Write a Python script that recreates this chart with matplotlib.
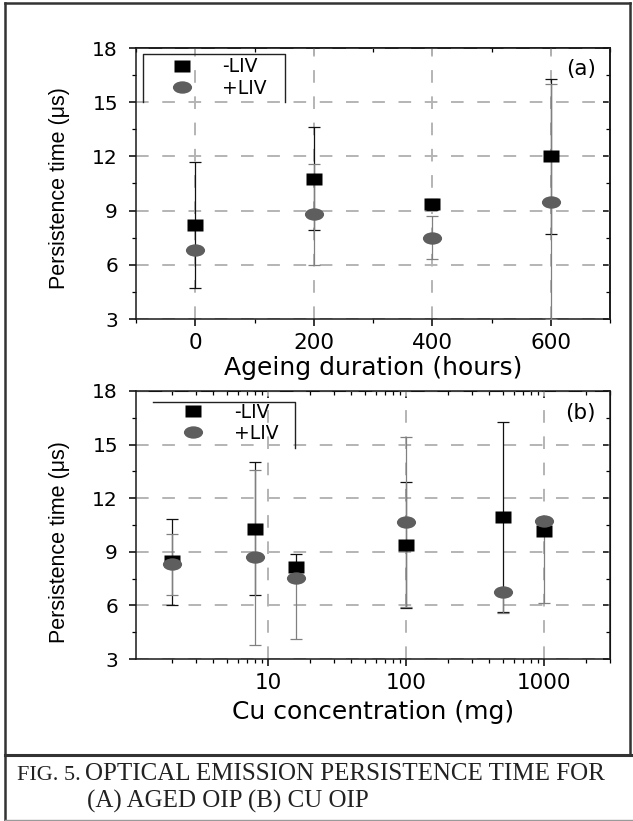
import matplotlib
matplotlib.use('Agg')
import matplotlib.pyplot as plt
from matplotlib.path import Path
from matplotlib.transforms import Affine2D
from matplotlib.lines import Line2D
from matplotlib.ticker import MultipleLocator, LogLocator, NullFormatter
from matplotlib import font_manager as fm

# ---------------- data ----------------
hours = [0, 200, 400, 600]
a_minus = [8.2, 10.75, 9.35, 12.0]
a_minus_err_lo = [3.5, 2.85, 0.3, 4.3]
a_minus_err_hi = [3.5, 2.85, 0.3, 4.3]
a_plus = [6.8, 8.8, 7.5, 9.5]
a_plus_err_lo = [0.0, 2.8, 1.2, 6.5]
a_plus_err_hi = [0.0, 2.8, 1.2, 6.5]

cu = [2, 8, 16, 100, 500, 1000]
b_minus = [8.5, 10.3, 8.15, 9.38, 10.95, 10.17]
b_minus_err_lo = [2.5, 3.7, 0.7, 3.5, 5.3, 0.0]
b_minus_err_hi = [2.35, 3.7, 0.7, 3.5, 5.3, 0.0]
b_plus = [8.3, 8.7, 7.55, 10.68, 6.77, 10.73]
b_plus_err_lo = [1.7, 4.9, 3.45, 4.75, 1.2, 4.6]
b_plus_err_hi = [1.7, 4.9, 0.0, 4.75, 0.0, 0.0]

y_ticks = [3, 6, 9, 12, 15, 18]
a_xticks = [0, 200, 400, 600]
b_xticks = [10, 100, 1000]
b_xticklabels = ['10', '100', '1000']
series_labels = ['-LIV', '+LIV']
ylabel = 'Persistence time (\u03bcs)'
xlabel_a = 'Ageing duration (hours)'
xlabel_b = 'Cu concentration (mg)'
caption_1a = 'FIG. 5.'
caption_1b = 'OPTICAL EMISSION PERSISTENCE TIME FOR'
caption_2 = '(A) AGED OIP (B) CU OIP'

# ---------------- style ----------------
plt.rcParams['font.family'] = ['DejaVu Sans']
names = {f.name for f in fm.fontManager.ttflist}
if 'Liberation Sans Narrow' in names:
    ylab_kw = dict(family='Liberation Sans Narrow', fontsize=18.5)
else:
    ylab_kw = dict(family='Liberation Sans', fontsize=15.5)
serif = 'Liberation Serif' if 'Liberation Serif' in names else 'DejaVu Serif'

W, H = 633, 821
fig = plt.figure(figsize=(W / 100, H / 100), dpi=100)

def fy(py):
    return 1 - py / H

sq_path = Path([(-0.675, -0.5), (0.675, -0.5), (0.675, 0.5), (-0.675, 0.5), (-0.675, -0.5)], closed=True)
ell_path = Affine2D().scale(1.55, 1.0).transform_path(Path.unit_circle())

SQ_COLOR = 'black'
CI_COLOR = '#5e5e5e'
GRID_KW = dict(color='#b4b4b4', linewidth=1.4, linestyle=(0, (6.5, 7)))

axa = fig.add_axes([136 / W, 1 - 319 / H, 474 / W, 271 / H])
axb = fig.add_axes([136 / W, 1 - 659 / H, 474 / W, 268 / H])


def draw_panel(ax, x, ym, yme_lo, yme_hi, yp, ype_lo, ype_hi):
    ax.errorbar(x, ym, yerr=[yme_lo, yme_hi], fmt='none', ecolor='#111111', elinewidth=0.9,
                capsize=4, capthick=0.9, zorder=3)
    ax.errorbar(x, yp, yerr=[ype_lo, ype_hi], fmt='none', ecolor='#808080', elinewidth=0.9,
                capsize=4, capthick=0.9, zorder=3)
    ax.plot(x, ym, ls='none', marker=sq_path, ms=11.5, color=SQ_COLOR, mec='none', zorder=4)
    ax.plot(x, yp, ls='none', marker=ell_path, ms=13.8, color=CI_COLOR, mec='none', zorder=5)
    ax.set_ylim(3, 18)
    ax.set_yticks(y_ticks)
    ax.set_yticklabels([str(v) for v in y_ticks])
    ax.yaxis.set_minor_locator(MultipleLocator(1.5))
    ax.grid(True, which='major', **GRID_KW)
    ax.set_axisbelow(True)
    for s in ax.spines.values():
        s.set_linewidth(1.1)
        s.set_color('#1a1a1a')
    ax.tick_params(which='major', direction='out', length=5, width=1.1, pad=5,
                   top=False, right=False)
    ax.tick_params(which='minor', direction='out', length=3, width=0.9, top=False, right=False)
    ax.tick_params(axis='x', labelsize=15.5)
    ax.tick_params(axis='y', labelsize=14.5, pad=8)
    ax.set_ylabel(ylabel, **ylab_kw)
    ax.yaxis.label.set_va('center')
    handles = [Line2D([], [], ls='none', marker=sq_path, ms=11.5, color=SQ_COLOR, mec='none'),
               Line2D([], [], ls='none', marker=ell_path, ms=13.8, color=CI_COLOR, mec='none')]
    return handles


# panel (a)
h = draw_panel(axa, hours, a_minus, a_minus_err_lo, a_minus_err_hi, a_plus, a_plus_err_lo, a_plus_err_hi)
axa.set_xlim(-100, 700)
axa.set_xticks(a_xticks)
axa.set_xticklabels([str(v) for v in a_xticks])
axa.xaxis.set_minor_locator(MultipleLocator(100))
axa.set_xlabel(xlabel_a, fontsize=18)
axa.xaxis.set_label_coords(0.5, (319 - 368) / 271)
axa.xaxis.label.set_va('center')
axa.yaxis.set_label_coords((60 - 136) / 474, 0.483)
axa.legend(h, series_labels, loc='upper left', bbox_to_anchor=(0.0665, 0.965), frameon=False,
           borderpad=0, borderaxespad=0, handlelength=1.5, handletextpad=1.4,
           labelspacing=0.12, fontsize=13.5)
axa.add_line(Line2D([0.0148, 0.0148, 0.314, 0.314], [0.801, 0.978, 0.978, 0.801],
                    transform=axa.transAxes, color='#222222', lw=1.0, clip_on=False, zorder=6))
axa.text(0.939, 0.922, '(a)', transform=axa.transAxes, ha='center', va='center', fontsize=15.5)

sa = axa.secondary_xaxis('top')
sa.set_xticks(a_xticks)
sa.xaxis.set_minor_locator(MultipleLocator(100))
sa.tick_params(which='major', direction='in', length=5, width=1.1, labeltop=False)
sa.tick_params(which='minor', direction='in', length=3, width=0.9)
sa.spines['top'].set_linewidth(1.1)
sr = axa.secondary_yaxis('right')
sr.set_yticks(y_ticks)
sr.yaxis.set_minor_locator(MultipleLocator(1.5))
sr.tick_params(which='major', direction='in', length=5, width=1.1, labelright=False)
sr.tick_params(which='minor', direction='in', length=3, width=0.9)
sr.spines['right'].set_linewidth(1.1)

# panel (b)
h = draw_panel(axb, cu, b_minus, b_minus_err_lo, b_minus_err_hi, b_plus, b_plus_err_lo, b_plus_err_hi)
axb.set_xscale('log')
axb.set_xlim(1.1, 3000)
axb.set_xticks(b_xticks)
axb.set_xticklabels(b_xticklabels)
axb.xaxis.set_minor_locator(LogLocator(base=10, subs=range(2, 10)))
axb.xaxis.set_minor_formatter(NullFormatter())
axb.set_xlabel(xlabel_b, fontsize=18)
axb.xaxis.set_label_coords(0.5, (659 - 712) / 268)
axb.xaxis.label.set_va('center')
axb.yaxis.set_label_coords((60 - 136) / 474, 0.437)
axb.legend(h, series_labels, loc='upper left', bbox_to_anchor=(0.0897, 0.957), frameon=False,
           borderpad=0, borderaxespad=0, handlelength=1.5, handletextpad=1.47,
           labelspacing=0.12, fontsize=13.5)
axb.add_line(Line2D([0.0359, 0.3354, 0.3354], [0.959, 0.959, 0.787],
                    transform=axb.transAxes, color='#222222', lw=1.0, clip_on=False, zorder=6))
axb.text(0.937, 0.918, '(b)', transform=axb.transAxes, ha='center', va='center', fontsize=15.5)

sb = axb.secondary_xaxis('top')
sb.set_xticks(b_xticks)
sb.xaxis.set_minor_locator(LogLocator(base=10, subs=range(2, 10)))
sb.xaxis.set_minor_formatter(NullFormatter())
sb.tick_params(which='major', direction='in', length=5, width=1.1, labeltop=False)
sb.tick_params(which='minor', direction='in', length=3, width=0.9)
sbr = axb.secondary_yaxis('right')
sbr.set_yticks(y_ticks)
sbr.yaxis.set_minor_locator(MultipleLocator(1.5))
sbr.tick_params(which='major', direction='in', length=5, width=1.1, labelright=False)
sbr.tick_params(which='minor', direction='in', length=3, width=0.9)

# ---------------- frame and caption ----------------
BORDER = '#333333'
fig.add_artist(Line2D([5 / W, 5 / W], [fy(3), fy(821)], transform=fig.transFigure, color=BORDER, lw=1.8))
fig.add_artist(Line2D([5 / W, 630 / W], [fy(3), fy(3)], transform=fig.transFigure, color=BORDER, lw=1.8))
fig.add_artist(Line2D([630 / W, 630 / W], [fy(3), fy(755)], transform=fig.transFigure, color=BORDER, lw=1.8))
fig.add_artist(Line2D([5 / W, 1.0], [fy(755), fy(755)], transform=fig.transFigure, color=BORDER, lw=2.2))
fig.add_artist(Line2D([5 / W, 1.0], [fy(820), fy(820)], transform=fig.transFigure, color='#9a9a9a', lw=1.0))

cap_kw = dict(family=serif, color='#222222', va='baseline', ha='left')
fig.text(17 / W, fy(780), caption_1a, fontsize=16, **cap_kw)
fig.text(85 / W, fy(780), caption_1b, fontsize=18, **cap_kw)
fig.text(87 / W, fy(808), caption_2, fontsize=18, **cap_kw)

fig.savefig('out.png', dpi=100)
